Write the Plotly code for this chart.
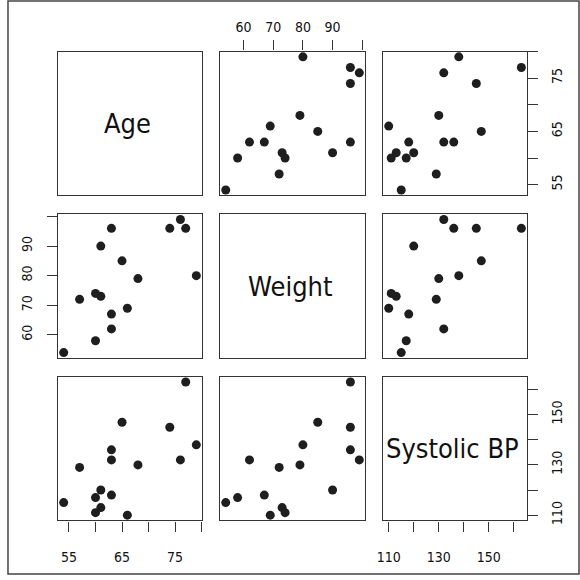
import plotly.graph_objects as go

# ---- data ----
names = ["Age", "Weight", "Systolic BP"]
age = [79, 77, 76, 74, 68, 66, 65, 63, 63, 63, 61, 61, 60, 60, 57, 54]
weight = [80, 96, 99, 96, 79, 69, 85, 96, 67, 62, 90, 73, 74, 58, 72, 54]
bp = [138, 163, 132, 145, 130, 110, 147, 136, 118, 132, 120, 113, 111, 117, 129, 115]

age_ticks = [55, 60, 65, 70, 75, 80]
age_labels = ["55", "", "65", "", "75", ""]
weight_ticks = [60, 70, 80, 90, 100]
weight_labels = ["60", "70", "80", "90", ""]
bp_ticks = [110, 120, 130, 140, 150, 160]
bp_labels = ["110", "", "130", "", "150", ""]

data = [age, weight, bp]
ticks = [age_ticks, weight_ticks, bp_ticks]
labels = [age_labels, weight_labels, bp_labels]

# ---- layout geometry ----
W = 580
col_px = [(52, 197), (216, 362), (381, 526)]
row_px = [(52, 197), (216, 361), (380, 525)]
FONT = "Liberation Sans Narrow, DejaVu Sans Condensed, Roboto, Arial, sans-serif"
LINE = "#333333"


def rng(v):
    lo, hi = min(v), max(v)
    p = 0.04 * (hi - lo)
    return [lo - p, hi + p]


fig = go.Figure()
lay = {}
annotations = []

for r in range(3):
    for c in range(3):
        k = r * 3 + c + 1
        xname = "xaxis" if k == 1 else f"xaxis{k}"
        yname = "yaxis" if k == 1 else f"yaxis{k}"
        xref = "x" if k == 1 else f"x{k}"
        yref = "y" if k == 1 else f"y{k}"
        if r != c:
            fig.add_trace(go.Scatter(
                x=data[c], y=data[r], mode="markers",
                marker=dict(size=9, color="#1e1e1e", line=dict(width=0)),
                xaxis=xref, yaxis=yref, showlegend=False, hoverinfo="skip"))
        else:
            fig.add_trace(go.Scatter(x=[None], y=[None], xaxis=xref, yaxis=yref,
                                     showlegend=False, hoverinfo="skip"))
        xa = dict(domain=[col_px[c][0] / W, col_px[c][1] / W], anchor=yref,
                  range=rng(data[c]), showline=True, mirror=True, linecolor=LINE,
                  linewidth=1.3, showgrid=False, zeroline=False, ticks="",
                  showticklabels=False, fixedrange=True)
        ya = dict(domain=[1 - row_px[r][1] / W, 1 - row_px[r][0] / W], anchor=xref,
                  range=rng(data[r]), showline=True, mirror=True, linecolor=LINE,
                  linewidth=1.3, showgrid=False, zeroline=False, ticks="",
                  showticklabels=False, fixedrange=True)
        xt = (r == 2 and c in (0, 2)) or (r == 0 and c == 1)
        yt = (c == 2 and r in (0, 2)) or (c == 0 and r == 1)
        if xt:
            xa.update(ticks="outside", ticklen=10, tickwidth=1.3, tickcolor=LINE,
                      tickmode="array", tickvals=ticks[c], ticktext=labels[c],
                      showticklabels=True, side="top" if r == 0 else "bottom",
                      ticklabelstandoff=3 if r == 0 else 14,
                      tickfont=dict(family=FONT, size=14, color="#111111"))
        if yt:
            ya.update(ticks="outside", ticklen=10, tickwidth=1.3, tickcolor=LINE,
                      tickmode="array", tickvals=ticks[r], ticktext=labels[r],
                      showticklabels=True, side="left" if c == 0 else "right",
                      tickangle=-90, ticklabelstandoff=10 if c == 0 else 7,
                      tickfont=dict(family=FONT, size=14, color="#111111"))
        lay[xname] = xa
        lay[yname] = ya
        if r == c:
            annotations.append(dict(
                text=names[r], xref="paper", yref="paper",
                x=((col_px[c][0] + col_px[c][1]) / 2 - 3) / W,
                y=1 - (row_px[r][0] + row_px[r][1]) / 2 / W,
                showarrow=False, xanchor="center", yanchor="middle",
                font=dict(family=FONT, size=27, color="#111111")))

fig.update_layout(
    width=W, height=W, margin=dict(l=0, r=0, t=0, b=0),
    paper_bgcolor="white", plot_bgcolor="white",
    annotations=annotations,
    shapes=[dict(type="rect", xref="paper", yref="paper",
                 x0=1 / W, x1=1 - 1 / W, y0=1 / W, y1=1 - 1 / W,
                 line=dict(color="#444444", width=1.5))],
    **lay)

fig.write_html("out.html")
